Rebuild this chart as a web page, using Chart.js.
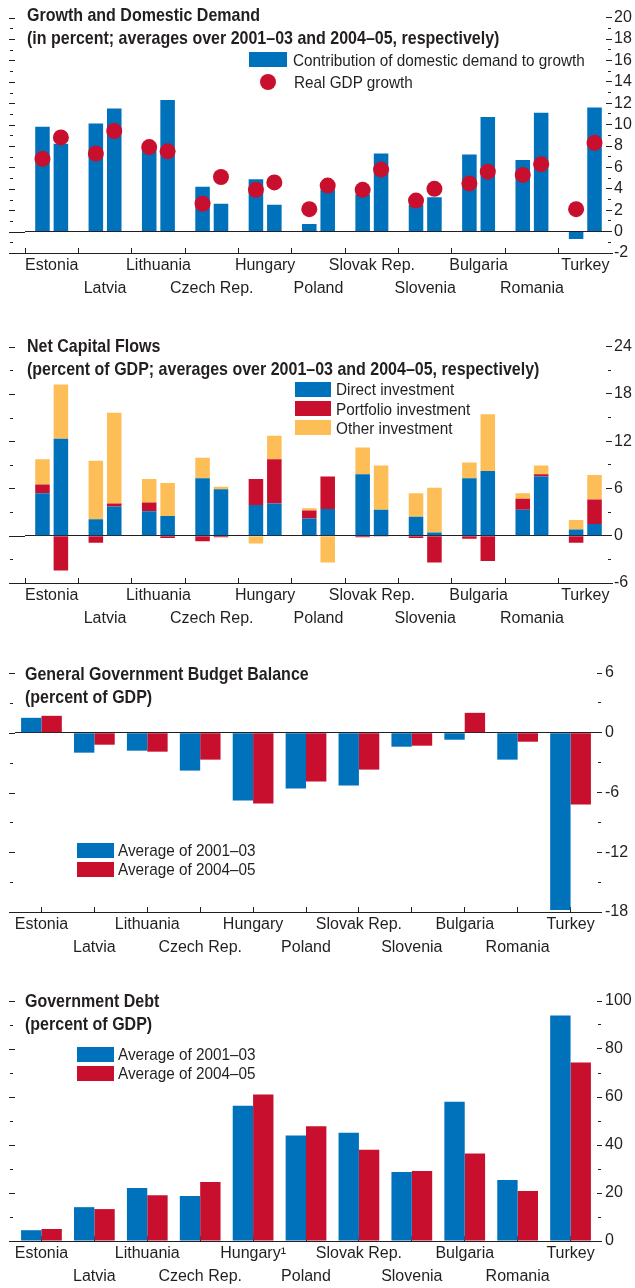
<!DOCTYPE html>
<html>
<head>
<meta charset="utf-8">
<title>Growth, capital flows, budget balance and government debt</title>
<script src="https://cdn.jsdelivr.net/npm/chart.js@4.4.1/dist/chart.umd.min.js"></script>
<style>
  body { margin: 0; background: #fff; }
  #page { position: relative; width: 635px; height: 1288px; overflow: hidden;
          font-family: "Liberation Sans", Arial, sans-serif; color: #231f20; }
  canvas { position: absolute; left: 0; }
  /* the original type is a condensed face; squeeze Liberation Sans to match */
  .t { position: absolute; white-space: nowrap; font-size: 18.5px; font-weight: bold; line-height: 23px;
       transform: scaleX(0.865); transform-origin: 0 0; }
  .lg { position: absolute; white-space: nowrap; font-size: 17px; line-height: 19px;
        transform: scaleX(0.9); transform-origin: 0 0; }
  .sw { position: absolute; height: 15px; }
</style>
</head>
<body>
<div id="page">
  <canvas id="growth" width="635" height="300" style="top:0px"></canvas>
  <canvas id="flows" width="635" height="301" style="top:329px"></canvas>
  <canvas id="balance" width="635" height="301" style="top:658px"></canvas>
  <canvas id="debt" width="635" height="302" style="top:986px"></canvas>

  <!-- titles -->
  <div class="t" style="left:27px; top:2.5px">Growth and Domestic Demand<br>(in percent; averages over 2001–03 and 2004–05, respectively)</div>
  <div class="t" style="left:27px; top:333.5px">Net Capital Flows<br>(percent of GDP; averages over 2001–03 and 2004–05, respectively)</div>
  <div class="t" style="left:25px; top:661.5px">General Government Budget Balance<br>(percent of GDP)</div>
  <div class="t" style="left:25px; top:988.5px">Government Debt<br>(percent of GDP)</div>

  <!-- legends -->
  <span class="sw" data-c="blue" style="left:249px; top:52px; width:38px"></span>
  <div class="lg" style="left:293px; top:50.5px">Contribution of domestic demand to growth</div>
  <span class="sw" data-c="red" style="left:260px; top:74px; width:16px; height:16px; border-radius:50%"></span>
  <div class="lg" style="left:294px; top:72.5px">Real GDP growth</div>

  <span class="sw" data-c="blue" style="left:295px; top:382px; width:36px"></span>
  <div class="lg" style="left:336px; top:379.5px">Direct investment</div>
  <span class="sw" data-c="red" style="left:295px; top:401px; width:36px"></span>
  <div class="lg" style="left:336px; top:399.5px">Portfolio investment</div>
  <span class="sw" data-c="orange" style="left:295px; top:420px; width:36px"></span>
  <div class="lg" style="left:336px; top:418.5px">Other investment</div>

  <span class="sw" data-c="blue" style="left:77px; top:843px; width:37px"></span>
  <div class="lg" style="left:118px; top:841px">Average of 2001–03</div>
  <span class="sw" data-c="red" style="left:77px; top:862px; width:37px"></span>
  <div class="lg" style="left:118px; top:859.5px">Average of 2004–05</div>

  <span class="sw" data-c="blue" style="left:77px; top:1047px; width:37px"></span>
  <div class="lg" style="left:118px; top:1044.5px">Average of 2001–03</div>
  <span class="sw" data-c="red" style="left:77px; top:1066px; width:37px"></span>
  <div class="lg" style="left:118px; top:1063.5px">Average of 2004–05</div>
</div>

<script>
// colours and fonts
const FONT = '"Liberation Sans", Arial, sans-serif';
const INK = '#231f20';
const colors = { blue: '#0072bc', red: '#c8102e', orange: '#fdbe57' };

// countries, in the order of the x axis
const countries = ['Estonia', 'Latvia', 'Lithuania', 'Czech Rep.', 'Hungary', 'Poland',
                   'Slovak Rep.', 'Slovenia', 'Bulgaria', 'Romania', 'Turkey'];
const debtCountries = ['Estonia', 'Latvia', 'Lithuania', 'Czech Rep.', 'Hungary¹', 'Poland',
                       'Slovak Rep.', 'Slovenia', 'Bulgaria', 'Romania', 'Turkey'];

// Growth and Domestic Demand (percent)
const demand0103 = [9.8, 10.1, 7.6, 4.2, 4.9, 0.7, 3.5, 2.5, 7.2, 6.7, -0.7];
const demand0405 = [8.2, 11.5, 12.3, 2.6, 2.5, 3.9, 7.3, 3.2, 10.7, 11.1, 11.6];
const gdp0103 = [6.8, 7.3, 7.9, 2.6, 3.9, 2.1, 3.9, 2.9, 4.5, 5.3, 2.1];
const gdp0405 = [8.8, 9.4, 7.5, 5.1, 4.6, 4.3, 5.8, 4.0, 5.6, 6.3, 8.3];

// Net Capital Flows (percent of GDP)
const direct0103 = [5.4, 2.1, 3.1, 7.3, 3.9, 2.2, 7.8, 2.4, 7.3, 3.3, 0.8];
const portfolio0103 = [1.1, -0.9, 1.1, -0.7, 3.3, 1.0, -0.2, -0.3, -0.4, 1.4, -0.9];
const other0103 = [3.2, 7.4, 3.0, 2.6, -1.0, 0.3, 3.4, 3.0, 2.0, 0.7, 1.2];
const direct0405 = [12.3, 3.7, 2.5, 5.9, 4.1, 3.4, 3.3, 0.4, 8.2, 7.5, 1.5];
const portfolio0405 = [-4.4, 0.4, -0.3, -0.2, 5.6, 4.1, -0.1, -3.4, -3.2, 0.3, 3.1];
const other0405 = [6.9, 11.5, 4.2, 0.3, 3.0, -3.4, 5.6, 5.7, 7.2, 1.1, 3.1];

// General Government Budget Balance (percent of GDP)
const balance0103 = [1.5, -2.0, -1.8, -3.8, -6.8, -5.6, -5.3, -1.4, -0.7, -2.7, -17.8];
const balance0405 = [1.7, -1.2, -1.9, -2.7, -7.1, -4.9, -3.7, -1.3, 2.0, -0.9, -7.2];

// Government Debt (percent of GDP)
const debt0103 = [4.5, 14.1, 22.1, 18.7, 56.4, 44.0, 45.1, 28.8, 58.0, 25.4, 94.0];
const debt0405 = [5.0, 13.3, 19.1, 24.6, 61.0, 47.8, 38.0, 29.2, 36.5, 20.8, 74.4];

// legend swatches take the same colours as the bars
document.querySelectorAll('.sw').forEach(el => { el.style.background = colors[el.dataset.c]; });

Chart.defaults.font.family = FONT;
Chart.defaults.color = INK;

// labels alternate between a top and a bottom row
const twoRows = names => names.map((c, i) => i % 2 ? ['', c] : [c, '']);

// little tick marks on the left edge, and the baseline / zero line carried out to them
const edgeTicks = {
  id: 'edgeTicks',
  afterDraw(chart, args, opts) {
    const { ctx, chartArea } = chart;
    const y = chart.scales.y;
    ctx.save();
    ctx.strokeStyle = INK;
    ctx.lineWidth = 1;
    ctx.beginPath();
    y.ticks.forEach(t => {
      const py = Math.round(y.getPixelForValue(t.value)) + 0.5;
      const major = t.value % opts.major === 0;
      ctx.moveTo(major ? 9 : 10, py);
      ctx.lineTo(major ? 15 : 13, py);
    });
    [y.min, 0].forEach(v => {
      const py = Math.round(y.getPixelForValue(v)) + 0.5;
      ctx.moveTo(9, py);
      ctx.lineTo(chartArea.left, py);
    });
    ctx.stroke();
    ctx.restore();
  }
};

// GDP growth dots, sitting on top of the matching bar of each pair
function dotsOnBars(series, color, radius) {
  return {
    id: 'dotsOnBars',
    afterDatasetsDraw(chart) {
      const { ctx } = chart;
      const y = chart.scales.y;
      ctx.save();
      ctx.fillStyle = color;
      series.forEach((values, k) => {
        const bars = chart.getDatasetMeta(k).data;
        values.forEach((v, i) => {
          ctx.beginPath();
          ctx.arc(bars[i].x, y.getPixelForValue(v), radius, 0, Math.PI * 2);
          ctx.fill();
        });
      });
      ctx.restore();
    }
  };
}

function options(o) {
  return {
    responsive: false,
    animation: false,
    layout: { padding: { left: o.left, top: 15, right: 0, bottom: 0 } },
    plugins: { legend: { display: false }, tooltip: { enabled: false }, edgeTicks: { major: o.major } },
    scales: {
      x: {
        stacked: !!o.stacked,
        offset: true,
        grid: {
          offset: o.boundaryTicks,
          drawOnChartArea: false,
          tickLength: -5,
          tickColor: c => c.type === 'tick' ? INK : 'rgba(0,0,0,0)'
        },
        border: { color: INK },
        ticks: { autoSkip: false, maxRotation: 0, padding: 6, color: INK,
                 font: { size: 16, lineHeight: '23px' } },
        afterFit: s => { s.height = 47; }
      },
      y: {
        position: 'right',
        stacked: !!o.stacked,
        min: o.min,
        max: o.max,
        ticks: {
          stepSize: o.step,
          autoSkip: false,
          padding: o.labelPad,
          color: INK,
          font: { size: 16 },
          callback: v => v % o.major === 0 ? String(v) : ''
        },
        grid: {
          color: c => c.tick && c.tick.value === 0 ? INK : 'rgba(0,0,0,0)',
          tickLength: o.tickLen,
          tickColor: INK,
          tickBorderDash: c => c.tick && c.tick.value % o.major !== 0 ? [0, 1, 3, 20] : []
        },
        border: { display: false },
        afterFit: s => { s.width = 635 - o.right; }
      }
    }
  };
}

// Growth and Domestic Demand
const pairNarrow = { categoryPercentage: 0.69, barPercentage: 0.79 };
new Chart(document.getElementById('growth'), {
  type: 'bar',
  data: {
    labels: twoRows(countries),
    datasets: [
      { label: 'Contribution of domestic demand to growth', data: demand0103, backgroundColor: colors.blue, ...pairNarrow },
      { label: 'Contribution of domestic demand to growth', data: demand0405, backgroundColor: colors.blue, ...pairNarrow }
    ]
  },
  options: options({ left: 25, right: 612, min: -2, max: 20, step: 1, major: 2, tickLen: -6, labelPad: 8,
                     boundaryTicks: true }),
  plugins: [edgeTicks, dotsOnBars([gdp0103, gdp0405], colors.red, 8)]
});

// Net Capital Flows
new Chart(document.getElementById('flows'), {
  type: 'bar',
  data: {
    labels: twoRows(countries),
    datasets: [
      { label: 'Direct investment', stack: 'a', data: direct0103, backgroundColor: colors.blue, ...pairNarrow },
      { label: 'Portfolio investment', stack: 'a', data: portfolio0103, backgroundColor: colors.red, ...pairNarrow },
      { label: 'Other investment', stack: 'a', data: other0103, backgroundColor: colors.orange, ...pairNarrow },
      { label: 'Direct investment', stack: 'b', data: direct0405, backgroundColor: colors.blue, ...pairNarrow },
      { label: 'Portfolio investment', stack: 'b', data: portfolio0405, backgroundColor: colors.red, ...pairNarrow },
      { label: 'Other investment', stack: 'b', data: other0405, backgroundColor: colors.orange, ...pairNarrow }
    ]
  },
  options: options({ left: 25, right: 612, min: -6, max: 24, step: 3, major: 6, tickLen: -6, labelPad: 8,
                     boundaryTicks: true, stacked: true }),
  plugins: [edgeTicks]
});

// General Government Budget Balance
const pairWide = { categoryPercentage: 0.77, barPercentage: 1.0 };
new Chart(document.getElementById('balance'), {
  type: 'bar',
  data: {
    labels: twoRows(countries),
    datasets: [
      { label: 'Average of 2001–03', data: balance0103, backgroundColor: colors.blue, ...pairWide },
      { label: 'Average of 2004–05', data: balance0405, backgroundColor: colors.red, ...pairWide }
    ]
  },
  options: options({ left: 15, right: 597, min: -18, max: 6, step: 3, major: 6, tickLen: 5, labelPad: 3,
                     boundaryTicks: false }),
  plugins: [edgeTicks]
});

// Government Debt
new Chart(document.getElementById('debt'), {
  type: 'bar',
  data: {
    labels: twoRows(debtCountries),
    datasets: [
      { label: 'Average of 2001–03', data: debt0103, backgroundColor: colors.blue, ...pairWide },
      { label: 'Average of 2004–05', data: debt0405, backgroundColor: colors.red, ...pairWide }
    ]
  },
  options: options({ left: 15, right: 597, min: 0, max: 100, step: 10, major: 20, tickLen: 5, labelPad: 3,
                     boundaryTicks: false }),
  plugins: [edgeTicks]
});
</script>
</body>
</html>
